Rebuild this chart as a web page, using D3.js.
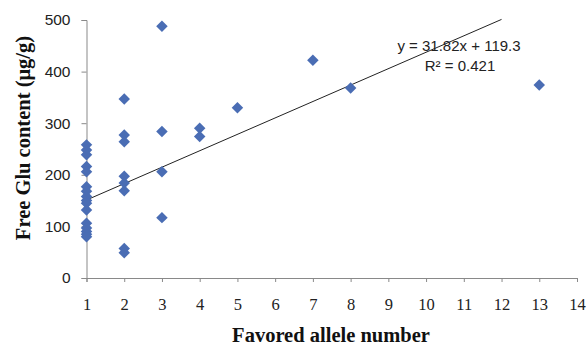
<!DOCTYPE html>
<html>
<head>
<meta charset="utf-8">
<script src="https://cdn.jsdelivr.net/npm/d3@7"></script>
<style>
  body { margin: 0; background: #fff; }
  .axis path, .axis line { stroke: #898989; }
  .ylab text { font-family: "Liberation Sans", Arial, sans-serif; font-size: 15.5px; fill: #222; }
  .xlab text { font-family: "Liberation Serif", "Times New Roman", serif; font-size: 16.5px; fill: #222; }
</style>
</head>
<body>
<div id="chart"></div>
<script>
// allele number per sample
var alleles = [1,1,1,1,1,1,1,1,1,1,1,1,1,1,1,1,
               2,2,2,2,2,2,2,2,
               3,3,3,3,
               4,4,
               5,7,8,13]
// free Glu content (ug/g)
var glu = [258,248,239,216,206,177,168,158,150,145,132,106,97,90,85,80,
           347,277,264,197,184,169,57,49,
           488,284,206,117,
           290,274,
           330,422,368,374]
var yTicks = [0,100,200,300,400,500]
var xTicks = [1,2,3,4,5,6,7,8,9,10,11,12,13,14]
var slope = 31.82, intercept = 119.3, fitRange = [1,12]

var width = 588, height = 348
var margin = {top: 20, right: 11, bottom: 70, left: 86.5}

var svg = d3.select('#chart').append('svg')
    .attr('width', width)
    .attr('height', height)

var x = d3.scaleLinear().domain([1,14]).range([margin.left, width - margin.right]),
    y = d3.scaleLinear().domain([0,500]).range([height - margin.bottom, margin.top])

svg.append('g')
    .attr('class', 'axis ylab')
    .attr('transform', 'translate(' + margin.left + ',0)')
    .call(d3.axisLeft(y).tickValues(yTicks).tickSize(5).tickPadding(11))

svg.append('g')
    .attr('class', 'axis xlab')
    .attr('transform', 'translate(0,' + y(0) + ')')
    .call(d3.axisBottom(x).tickValues(xTicks).tickSize(4).tickPadding(16))

// trend line
svg.append('line')
    .attr('x1', x(fitRange[0])).attr('y1', y(slope*fitRange[0] + intercept))
    .attr('x2', x(fitRange[1])).attr('y2', y(slope*fitRange[1] + intercept))
    .attr('stroke', '#222').attr('stroke-width', 1)

var sym = d3.symbol().type(d3.symbolSquare).size(66)
svg.append('g').selectAll('path')
    .data(glu)
  .enter().append('path')
    .attr('d', sym)
    .attr('transform', function(d, i) { return 'translate(' + x(alleles[i]) + ',' + y(d) + ') rotate(45)' })
    .attr('fill', '#4a6db4')

// equation
var eq = svg.append('g')
    .attr('font-family', '"Liberation Sans", Arial, sans-serif')
    .attr('font-size', 15)
    .attr('fill', '#222')
    .attr('text-anchor', 'middle')
eq.append('text').attr('x', 459).attr('y', 51).text('y = 31.82x + 119.3')
eq.append('text').attr('x', 460).attr('y', 71).text('R² = 0.421')

// axis titles
svg.append('text')
    .attr('x', 331).attr('y', 342)
    .attr('text-anchor', 'middle')
    .attr('font-family', '"Liberation Serif", "Times New Roman", serif')
    .attr('font-weight', 'bold')
    .attr('font-size', 20.5)
    .attr('fill', '#111')
    .text('Favored allele number')

svg.append('text')
    .attr('transform', 'translate(30,138) rotate(-90)')
    .attr('text-anchor', 'middle')
    .attr('font-family', '"Liberation Serif", "Times New Roman", serif')
    .attr('font-weight', 'bold')
    .attr('font-size', 20.5)
    .attr('fill', '#111')
    .text('Free Glu content (μg/g)')
</script>
</body>
</html>
